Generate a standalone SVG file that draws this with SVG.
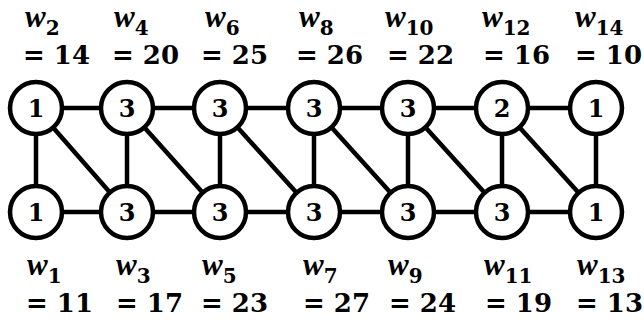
<svg xmlns="http://www.w3.org/2000/svg" width="644" height="324" viewBox="0 0 644 324">
<style>
.e{stroke:#000;stroke-width:4.5;fill:none}
.n circle{fill:#fff;stroke:#000;stroke-width:4.5}
.n text{font-family:"DejaVu Serif",serif;font-weight:bold;font-size:24px;text-anchor:middle;fill:#000}
.w{font-family:"Liberation Serif",serif;font-weight:bold;font-style:italic;font-size:31px;fill:#000}
.s{font-family:"DejaVu Serif",serif;font-weight:bold;font-style:normal;font-size:20px}
.v{font-family:"DejaVu Serif",serif;font-weight:bold;font-size:26px;fill:#000}
</style>
<rect width="644" height="324" fill="#fff"/>
<g id="connectors">
<line class="e" x1="36" y1="108" x2="596" y2="108"/>
<line class="e" x1="36" y1="212" x2="596" y2="212"/>
<line class="e" x1="36" y1="108" x2="36" y2="212"/>
<line class="e" x1="127" y1="108" x2="127" y2="212"/>
<line class="e" x1="220" y1="108" x2="220" y2="212"/>
<line class="e" x1="314" y1="108" x2="314" y2="212"/>
<line class="e" x1="408" y1="108" x2="408" y2="212"/>
<line class="e" x1="502" y1="108" x2="502" y2="212"/>
<line class="e" x1="596" y1="108" x2="596" y2="212"/>
<line class="e" x1="36" y1="108" x2="127" y2="212"/>
<line class="e" x1="127" y1="108" x2="220" y2="212"/>
<line class="e" x1="220" y1="108" x2="314" y2="212"/>
<line class="e" x1="314" y1="108" x2="408" y2="212"/>
<line class="e" x1="408" y1="108" x2="502" y2="212"/>
<line class="e" x1="502" y1="108" x2="596" y2="212"/>
</g>
<g id="t1" class="n"><circle cx="36" cy="108" r="26"/><text x="36" y="116.5">1</text></g>
<g id="t2" class="n"><circle cx="127" cy="108" r="26"/><text x="127" y="116.5">3</text></g>
<g id="t3" class="n"><circle cx="220" cy="108" r="26"/><text x="220" y="116.5">3</text></g>
<g id="t4" class="n"><circle cx="314" cy="108" r="26"/><text x="314" y="116.5">3</text></g>
<g id="t5" class="n"><circle cx="408" cy="108" r="26"/><text x="408" y="116.5">3</text></g>
<g id="t6" class="n"><circle cx="502" cy="108" r="26"/><text x="502" y="116.5">2</text></g>
<g id="t7" class="n"><circle cx="596" cy="108" r="26"/><text x="596" y="116.5">1</text></g>
<g id="b1" class="n"><circle cx="36" cy="212" r="26"/><text x="36" y="220.5">1</text></g>
<g id="b2" class="n"><circle cx="127" cy="212" r="26"/><text x="127" y="220.5">3</text></g>
<g id="b3" class="n"><circle cx="220" cy="212" r="26"/><text x="220" y="220.5">3</text></g>
<g id="b4" class="n"><circle cx="314" cy="212" r="26"/><text x="314" y="220.5">3</text></g>
<g id="b5" class="n"><circle cx="408" cy="212" r="26"/><text x="408" y="220.5">3</text></g>
<g id="b6" class="n"><circle cx="502" cy="212" r="26"/><text x="502" y="220.5">3</text></g>
<g id="b7" class="n"><circle cx="596" cy="212" r="26"/><text x="596" y="220.5">1</text></g>
<g id="labels">
<text class="w" x="25" y="27">w<tspan class="s" dy="8">2</tspan></text>
<text class="v" x="23" y="64">= 14</text>
<text class="w" x="114" y="27">w<tspan class="s" dy="8">4</tspan></text>
<text class="v" x="112" y="64">= 20</text>
<text class="w" x="205" y="27">w<tspan class="s" dy="8">6</tspan></text>
<text class="v" x="201" y="64">= 25</text>
<text class="w" x="299" y="27">w<tspan class="s" dy="8">8</tspan></text>
<text class="v" x="296" y="64">= 26</text>
<text class="w" x="385" y="27">w<tspan class="s" dy="8">10</tspan></text>
<text class="v" x="387" y="64">= 22</text>
<text class="w" x="482" y="27">w<tspan class="s" dy="8">12</tspan></text>
<text class="v" x="483" y="64">= 16</text>
<text class="w" x="575" y="27">w<tspan class="s" dy="8">14</tspan></text>
<text class="v" x="575" y="64">= 10</text>
<text class="w" x="27" y="275">w<tspan class="s" dy="8">1</tspan></text>
<text class="v" x="26" y="312">= 11</text>
<text class="w" x="116" y="275">w<tspan class="s" dy="8">3</tspan></text>
<text class="v" x="116" y="312">= 17</text>
<text class="w" x="202" y="275">w<tspan class="s" dy="8">5</tspan></text>
<text class="v" x="201" y="312">= 23</text>
<text class="w" x="303" y="275">w<tspan class="s" dy="8">7</tspan></text>
<text class="v" x="303" y="312">= 27</text>
<text class="w" x="388" y="275">w<tspan class="s" dy="8">9</tspan></text>
<text class="v" x="389" y="312">= 24</text>
<text class="w" x="484" y="275">w<tspan class="s" dy="8">11</tspan></text>
<text class="v" x="485" y="312">= 19</text>
<text class="w" x="577" y="275">w<tspan class="s" dy="8">13</tspan></text>
<text class="v" x="576" y="312">= 13</text>
</g>
</svg>
